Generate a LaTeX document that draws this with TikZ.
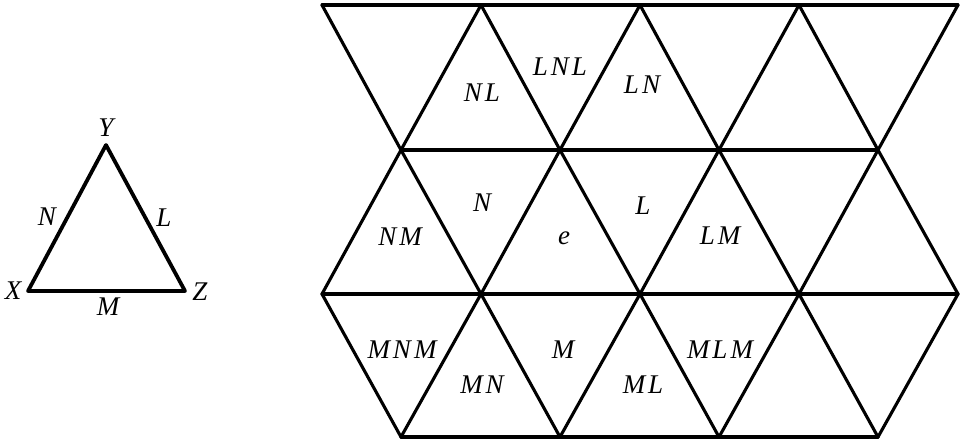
\documentclass[tikz,border=0pt]{standalone}
\usepackage{fontspec}
\setmainfont{Liberation Serif}
\newcommand{\lsp}{\kern3pt}
\begin{document}
\begin{tikzpicture}[x=1pt,y=-1pt,
  edge/.style={line width=3.1pt, line cap=round, line join=round},
  thickedge/.style={line width=3.8pt, line cap=round, line join=round},
  lab/.style={font=\fontsize{27}{27}\selectfont\itshape, inner sep=0pt}]
\useasboundingbox (0,0) rectangle (962,442);
% tiling vertices
\foreach \i/\x in {0/322,1/481,2/640,3/799,4/958}{
  \coordinate (a\i) at (\x,5);
  \coordinate (c\i) at (\x,294);
}
\foreach \i/\x in {0/401,1/560,2/719,3/878}{
  \coordinate (b\i) at (\x,150);
  \coordinate (d\i) at (\x,437);
}
% horizontals
\draw[edge] (a0) -- (a4);
\draw[edge] (b0) -- (b3);
\draw[edge] (c0) -- (c4);
\draw[edge] (d0) -- (d3);
% down-right diagonals
\draw[edge] (a0) -- (b0) -- (c1) -- (d1);
\draw[edge] (a1) -- (b1) -- (c2) -- (d2);
\draw[edge] (a2) -- (b2) -- (c3) -- (d3);
\draw[edge] (a3) -- (b3) -- (c4);
\draw[edge] (c0) -- (d0);
% down-left diagonals
\draw[edge] (a1) -- (b0) -- (c0);
\draw[edge] (a2) -- (b1) -- (c1) -- (d0);
\draw[edge] (a3) -- (b2) -- (c2) -- (d1);
\draw[edge] (a4) -- (b3) -- (c3) -- (d2);
\draw[edge] (c4) -- (d3);
% labels in tiling
\node[lab] (nl) at (482,93) {N\lsp L};
\node[lab] (lnl) at (560,67) {L\lsp N\lsp L};
\node[lab] (ln) at (642,85) {L\lsp N};
\node[lab] (nm) at (400,237) {N\lsp M};
\node[lab] (n) at (482,203) {N};
\node[lab] (e) at (564,238) {e};
\node[lab] (l) at (643,206) {L};
\node[lab] (lm) at (720,236) {L\lsp M};
\node[lab] (mnm) at (402,350) {M\lsp N\lsp M};
\node[lab] (mn) at (482,385) {M\lsp N};
\node[lab] (m) at (563,350) {M};
\node[lab] (ml) at (643,385) {M\lsp L};
\node[lab] (mlm) at (720,350) {M\lsp L\lsp M};
% small triangle
\coordinate (X) at (28,291);
\coordinate (Y) at (106,145);
\coordinate (Z) at (185,291);
\draw[thickedge] (X) -- (Y) -- (Z) -- cycle;
\node[lab] (ly) at (106,128) {Y};
\node[lab] (lx) at (13,291) {X};
\node[lab] (lz) at (200,292) {Z};
\node[lab] (sn) at (47,217) {N};
\node[lab] (sl) at (164,218) {L};
\node[lab] (sm) at (108,307) {M};
\end{tikzpicture}
\end{document}
